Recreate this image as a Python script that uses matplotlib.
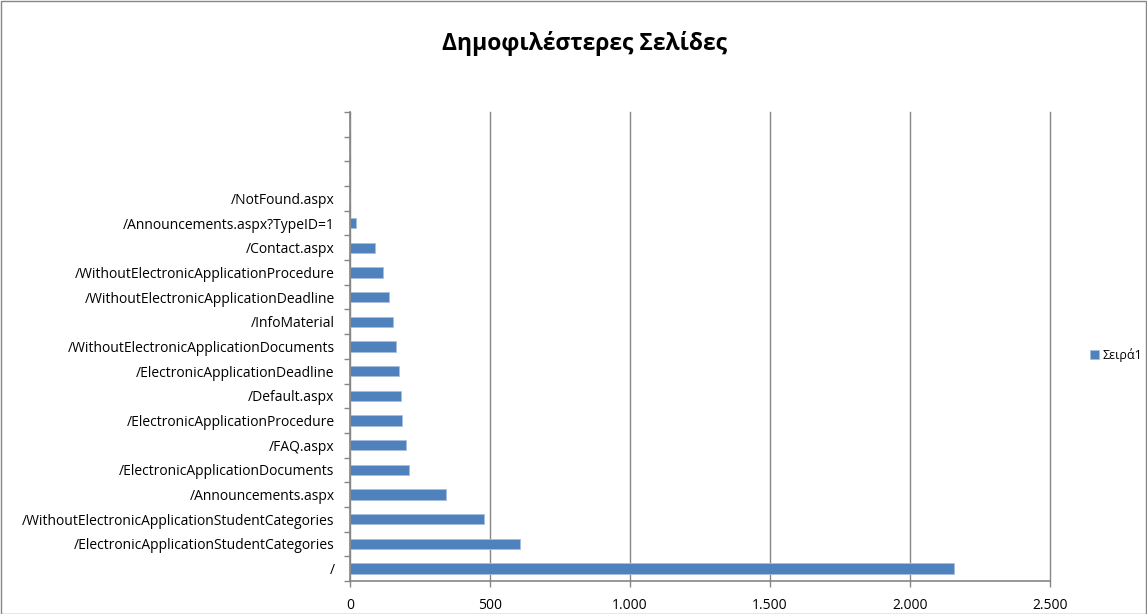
import matplotlib
matplotlib.use("Agg")
import matplotlib.pyplot as plt
import numpy as np

plt.rcParams['font.family'] = ['Open Sans', 'DejaVu Sans']

title = "Δημοφιλέστερες Σελίδες"
series_name = "Σειρά1"
pages = ["/", "/ElectronicApplicationStudentCategories",
         "/WithoutElectronicApplicationStudentCategories", "/Announcements.aspx",
         "/ElectronicApplicationDocuments", "/FAQ.aspx",
         "/ElectronicApplicationProcedure", "/Default.aspx",
         "/ElectronicApplicationDeadline", "/WithoutElectronicApplicationDocuments",
         "/InfoMaterial", "/WithoutElectronicApplicationDeadline",
         "/WithoutElectronicApplicationProcedure", "/Contact.aspx",
         "/Announcements.aspx?TypeID=1", "/NotFound.aspx", "", "", ""]
views = [2157, 608, 478, 343, 212, 200, 187, 182, 174, 166, 154, 141, 119, 90, 23, 0, 0, 0, 0]
xticks = [0, 500, 1000, 1500, 2000, 2500]
xtick_labels = ["0", "500", "1.000", "1.500", "2.000", "2.500"]

fig = plt.figure(figsize=(11.47, 6.14), dpi=100)
ax = fig.add_axes([350/1147, 1 - 581/614, 700/1147, 469/614])

y = np.arange(len(pages))
ax.barh(y, views, height=0.42, color="#4F81BD", edgecolor="#A7C0DE", linewidth=0.6,
        label=series_name, zorder=3)

ax.set_xlim(0, 2500)
ax.set_ylim(-0.5, len(pages) - 0.5)
ax.set_xticks(xticks)
ax.set_xticklabels(xtick_labels, fontsize=10)
ax.set_yticks(y)
ax.set_yticklabels(pages, fontsize=10)
ax.set_yticks(np.arange(len(pages) + 1) - 0.5, minor=True)
ax.tick_params(axis='y', which='major', length=0, pad=11)
ax.tick_params(axis='y', which='minor', length=4, color="#868686", width=1)
ax.tick_params(axis='x', length=4, color="#868686", width=1, pad=8)
ax.grid(axis='x', color="#868686", linewidth=1, zorder=0)
for gl in ax.get_xgridlines():
    gl.set_clip_on(False)
for s in ["top", "right"]:
    ax.spines[s].set_visible(False)
for s in ["left", "bottom"]:
    ax.spines[s].set_color("#868686")
    ax.spines[s].set_linewidth(1.2)
    ax.spines[s].set_zorder(4)

fig.text(585/1147, 1 - 43/614, title, ha='center', va='center', fontsize=16.5, fontweight='bold')

leg = fig.legend(loc='center left', bbox_to_anchor=(1085/1147, 1 - 355/614), frameon=False,
                 fontsize=9, handlelength=0.7, handleheight=0.7, handletextpad=0.3, borderaxespad=0)

border = plt.Rectangle((0.5/1147, 0.5/614), 1 - 1.5/1147, 1 - 1.5/614, transform=fig.transFigure,
                       fill=False, edgecolor="#868686", linewidth=1)
fig.patches.append(border)

fig.savefig("out.png", dpi=100)
